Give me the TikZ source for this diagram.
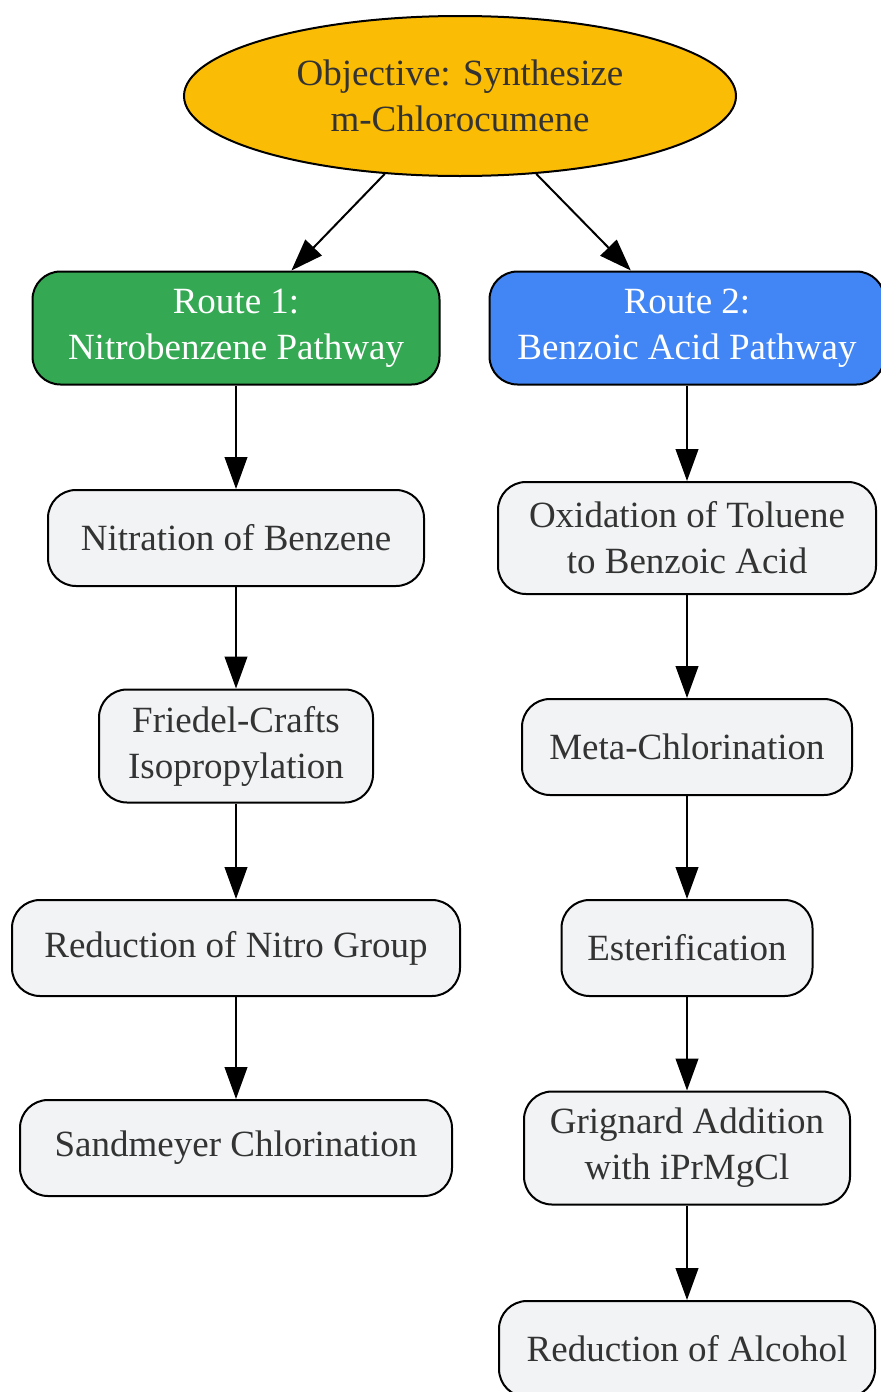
\documentclass[tikz,border=0pt]{standalone}
\usepackage{fontspec}
\setmainfont{Liberation Serif}
\usetikzlibrary{arrows.meta,shapes.geometric}
\definecolor{goalyellow}{HTML}{FBBC05}
\definecolor{routegreen}{HTML}{34A853}
\definecolor{routeblue}{HTML}{4285F4}
\definecolor{stepgray}{HTML}{F1F3F4}
\definecolor{inkgray}{HTML}{333333}
\tikzset{
    base/.style={draw, line width=1.5pt, inner sep=0pt, align=center,
        font=\fontsize{27.75}{34.5}\selectfont},
    goal/.style={base, ellipse, fill=goalyellow, text=inkgray},
    route/.style={base, rounded corners=21pt, text=white},
    stepbox/.style={base, rounded corners=21pt, fill=stepgray, text=inkgray},
    flow/.style={line width=1.5pt, -{Triangle[length=24pt,width=17pt]}}
}
\begin{document}
\begin{tikzpicture}[x=0.75pt, y=-0.75pt]
        \useasboundingbox (0,0) rectangle (881,1392);

        \node[goal, minimum width=414pt, minimum height=120pt] (goal) at (460,96)
            {Objective: Synthesize\\m-Chlorocumene};

        % route 1
        \node[route, fill=routegreen, minimum width=305.25pt, minimum height=84.75pt] (r1) at (236,328)
            {Route 1:\\Nitrobenzene Pathway};
        \node[stepbox, minimum width=282pt, minimum height=72pt] (nitr) at (236,538)
            {Nitration of Benzene};
        \node[stepbox, minimum width=205.5pt, minimum height=84.75pt] (fc) at (236,746)
            {Friedel-Crafts\\Isopropylation};
        \node[stepbox, minimum width=336pt, minimum height=72pt] (redn) at (236,948)
            {Reduction of Nitro Group};
        \node[stepbox, minimum width=324pt, minimum height=72pt] (sand) at (236,1148)
            {Sandmeyer Chlorination};

        % route 2
        \node[route, fill=routeblue, minimum width=296.25pt, minimum height=84.75pt] (r2) at (687,328)
            {Route 2:\\Benzoic Acid Pathway};
        \node[stepbox, minimum width=283.5pt, minimum height=84pt] (oxid) at (687,538)
            {Oxidation of Toluene\\to Benzoic Acid};
        \node[stepbox, minimum width=247.5pt, minimum height=72pt] (meta) at (687,747)
            {Meta-Chlorination};
        \node[stepbox, minimum width=188.25pt, minimum height=72pt] (ester) at (687,948)
            {Esterification};
        \node[stepbox, minimum width=244.5pt, minimum height=84.75pt] (grig) at (687,1148)
            {Grignard Addition\\with iPrMgCl};
        \node[stepbox, minimum width=282pt, minimum height=72pt] (redalc) at (687,1349)
            {Reduction of Alcohol};

        \draw[flow] (goal) -- (r1);
        \draw[flow] (goal) -- (r2);

        \draw[flow] (r1) -- (nitr);
        \draw[flow] (nitr) -- (fc);
        \draw[flow] (fc) -- (redn);
        \draw[flow] (redn) -- (sand);

        \draw[flow] (r2) -- (oxid);
        \draw[flow] (oxid) -- (meta);
        \draw[flow] (meta) -- (ester);
        \draw[flow] (ester) -- (grig);
        \draw[flow] (grig) -- (redalc);
    \end{tikzpicture}
\end{document}
